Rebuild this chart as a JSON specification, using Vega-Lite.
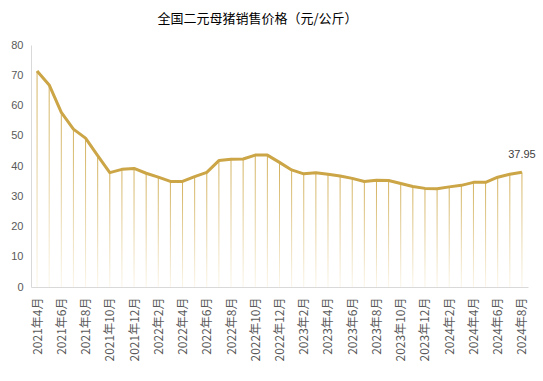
{
  "$schema": "https://vega.github.io/schema/vega-lite/v6.json",
  "width": 497,
  "height": 242,
  "autosize": {"type": "none"},
  "padding": {"left": 31, "top": 45, "right": 15, "bottom": 94},
  "background": "white",
  "title": {"text": "全国二元母猪销售价格（元/公斤）", "fontSize": 13, "fontWeight": "normal", "font": "Noto Sans CJK SC", "color": "#000000", "anchor": "middle", "dx": -22, "offset": 13},
  "config": {
    "view": {"stroke": null},
    "axis": {"grid": false, "ticks": false, "domainColor": "#d9d9d9", "labelColor": "#595959", "labelFontSize": 11, "labelFont": "Noto Sans CJK SC", "title": null}
  },
  "data": {"values": [
    {"m": "2021年4月", "v": 71.4},
    {"m": "2021年5月", "v": 66.8},
    {"m": "2021年6月", "v": 57.7},
    {"m": "2021年7月", "v": 52.2},
    {"m": "2021年8月", "v": 49.2},
    {"m": "2021年9月", "v": 43.4},
    {"m": "2021年10月", "v": 37.8},
    {"m": "2021年11月", "v": 38.9},
    {"m": "2021年12月", "v": 39.2},
    {"m": "2022年1月", "v": 37.6},
    {"m": "2022年2月", "v": 36.3},
    {"m": "2022年3月", "v": 34.9},
    {"m": "2022年4月", "v": 34.9},
    {"m": "2022年5月", "v": 36.5},
    {"m": "2022年6月", "v": 37.9},
    {"m": "2022年7月", "v": 41.8},
    {"m": "2022年8月", "v": 42.2},
    {"m": "2022年9月", "v": 42.3},
    {"m": "2022年10月", "v": 43.6},
    {"m": "2022年11月", "v": 43.6},
    {"m": "2022年12月", "v": 41.2},
    {"m": "2023年1月", "v": 38.7},
    {"m": "2023年2月", "v": 37.4},
    {"m": "2023年3月", "v": 37.8},
    {"m": "2023年4月", "v": 37.3},
    {"m": "2023年5月", "v": 36.7},
    {"m": "2023年6月", "v": 35.9},
    {"m": "2023年7月", "v": 34.9},
    {"m": "2023年8月", "v": 35.3},
    {"m": "2023年9月", "v": 35.2},
    {"m": "2023年10月", "v": 34.2},
    {"m": "2023年11月", "v": 33.2},
    {"m": "2023年12月", "v": 32.6},
    {"m": "2024年1月", "v": 32.5},
    {"m": "2024年2月", "v": 33.1},
    {"m": "2024年3月", "v": 33.6},
    {"m": "2024年4月", "v": 34.6},
    {"m": "2024年5月", "v": 34.6},
    {"m": "2024年6月", "v": 36.3},
    {"m": "2024年7月", "v": 37.3},
    {"m": "2024年8月", "v": 37.95}
  ]},
  "encoding": {
    "x": {
      "field": "m", "type": "ordinal", "sort": null,
      "scale": {"type": "point", "padding": 0.5},
      "axis": {"labelAngle": -90, "labelPadding": 10, "labelFontSize": 12,
        "values": ["2021年4月","2021年6月","2021年8月","2021年10月","2021年12月","2022年2月","2022年4月","2022年6月","2022年8月","2022年10月","2022年12月","2023年2月","2023年4月","2023年6月","2023年8月","2023年10月","2023年12月","2024年2月","2024年4月","2024年6月","2024年8月"]}
    },
    "y": {"field": "v", "type": "quantitative", "scale": {"domain": [0, 80], "nice": false}, "axis": {"tickCount": 8, "labelOverlap": false, "labelFont": "Liberation Sans", "labelPadding": 8}}
  },
  "layer": [
    {
      "mark": {"type": "bar", "size": 1, "fill": {"gradient": "linear", "x1": 0, "y1": 0, "x2": 0, "y2": 1, "stops": [{"offset": 0, "color": "#D2B05A"}, {"offset": 1, "color": "#FBF6EA"}]}}
    },
    {
      "mark": {"type": "line", "color": "#CBA546", "strokeWidth": 3, "strokeJoin": "round"}
    },
    {
      "transform": [{"filter": "datum.m === '2024年8月'"}],
      "mark": {"type": "text", "dy": -17, "fontSize": 11, "color": "#404040"},
      "encoding": {"text": {"field": "v", "type": "quantitative", "format": ".2f"}}
    }
  ]
}
